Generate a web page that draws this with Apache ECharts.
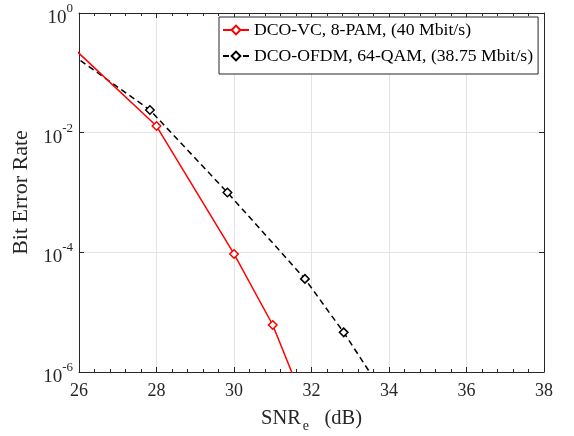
<!DOCTYPE html>
<html>
<head>
<meta charset="utf-8">
<title>BER vs SNR</title>
<script src="https://cdn.jsdelivr.net/npm/echarts@6/dist/echarts.min.js"></script>
<style>
  html, body { margin: 0; padding: 0; background: #fff; }
  #main { width: 574px; height: 436px; }
</style>
</head>
<body>
<div id="main"></div>
<script>
// values (points outside the axes are clipped like in the original)
var vcName = 'DCO-VC, 8-PAM, (40 Mbit/s)';
var vcSnr = [25, 28, 30, 31, 32];
var vcBer = [0.86, 0.0129, 9.4e-5, 6.1e-6, 1.5e-7];

var ofdmName = 'DCO-OFDM, 64-QAM, (38.75 Mbit/s)';
var ofdmSnr = [25.83, 27.83, 29.83, 31.83, 32.83, 33.83];
var ofdmBer = [0.2, 0.0239, 1.0e-3, 3.6e-5, 4.6e-6, 4.7e-7];

var yTicks = [1e-6, 1e-4, 1e-2, 1];

var serif = 'Liberation Serif';
var axisColor = '#262626';
var gridColor = '#e3e3e3';

function pairs(xs, ys) {
    return xs.map(function (x, i) { return [x, ys[i]]; });
}

function powLabel(v) {
    var e = Math.round(Math.log(v) / Math.LN10);
    return '{b|10}{s|' + e + '}';
}

var chart = echarts.init(document.getElementById('main'));

var xBase = {
    type: 'value',
    min: 26,
    max: 38,
    interval: 2,
    axisLine: { show: true, onZero: false, lineStyle: { color: axisColor, width: 1 } },
    axisTick: { show: true, inside: true, length: 5, lineStyle: { color: axisColor } },
    minorTick: { show: true, splitNumber: 5, length: 3, lineStyle: { color: axisColor } }
};

var option = {
    animation: false,
    grid: { left: 79, right: 30, top: 13, bottom: 64, outerBoundsMode: 'none' },
    legend: {
        orient: 'vertical',
        left: 219,
        top: 17,
        data: [vcName, ofdmName],
        itemWidth: 26,
        itemHeight: 11,
        itemGap: 8,
        padding: [4, 5, 9, 3],
        borderColor: axisColor,
        borderWidth: 1,
        borderRadius: 0,
        backgroundColor: '#fff',
        selectedMode: false,
        textStyle: { fontFamily: serif, fontSize: 17.7, color: '#000' }
    },
    xAxis: [
        Object.assign({}, xBase, {
            position: 'bottom',
            axisLabel: { margin: 10, fontFamily: serif, fontSize: 18, color: axisColor },
            splitLine: { show: true, lineStyle: { color: gridColor } },
            name: '{a|SNR}{e|e}{a|   (dB)}',
            nameLocation: 'middle',
            nameGap: 33,
            nameTextStyle: {
                color: axisColor,
                rich: {
                    a: { fontFamily: serif, fontSize: 20.5, color: axisColor },
                    e: { fontFamily: serif, fontSize: 14, color: axisColor, padding: [14, 0, 0, 2] }
                }
            }
        }),
        Object.assign({}, xBase, {
            position: 'top',
            axisLabel: { show: false },
            splitLine: { show: false }
        })
    ],
    yAxis: [
        {
            type: 'log',
            logBase: 10,
            min: 1e-6,
            max: 1,
            position: 'left',
            axisLine: { show: true, onZero: false, lineStyle: { color: axisColor, width: 1 } },
            axisTick: { show: true, inside: true, length: 5, customValues: yTicks, lineStyle: { color: axisColor } },
            axisLabel: {
                customValues: yTicks,
                formatter: powLabel,
                margin: 6,
                rich: {
                    b: { fontFamily: serif, fontSize: 19, color: axisColor, padding: [10, 0, 0, 0] },
                    s: { fontFamily: serif, fontSize: 13, color: axisColor, padding: [0, 0, 9, 0] }
                }
            },
            splitLine: { show: true, lineStyle: { color: gridColor } },
            name: 'Bit Error Rate',
            nameLocation: 'middle',
            nameGap: 39,
            nameTextStyle: { fontFamily: serif, fontSize: 22, color: axisColor }
        },
        {
            type: 'log',
            logBase: 10,
            min: 1e-6,
            max: 1,
            position: 'right',
            axisLine: { show: true, onZero: false, lineStyle: { color: axisColor, width: 1 } },
            axisTick: { show: true, inside: true, length: 5, customValues: yTicks, lineStyle: { color: axisColor } },
            axisLabel: { show: false },
            splitLine: { show: false }
        }
    ],
    series: [
        {
            name: vcName,
            type: 'line',
            data: pairs(vcSnr, vcBer),
            clip: true,
            symbol: 'diamond',
            symbolSize: 8.5,
            showAllSymbol: true,
            lineStyle: { color: '#ff0000', width: 1.5 },
            itemStyle: { color: '#ffffff', borderColor: '#ff0000', borderWidth: 1.5 },
            emphasis: { disabled: true },
            z: 3
        },
        {
            name: ofdmName,
            type: 'line',
            data: pairs(ofdmSnr, ofdmBer),
            clip: true,
            symbol: 'diamond',
            symbolSize: 8.5,
            showAllSymbol: true,
            lineStyle: { color: '#000000', width: 1.5, type: [6, 4] },
            itemStyle: { color: '#ffffff', borderColor: '#000000', borderWidth: 1.5 },
            emphasis: { disabled: true },
            z: 2
        }
    ]
};

chart.setOption(option);
</script>
</body>
</html>
